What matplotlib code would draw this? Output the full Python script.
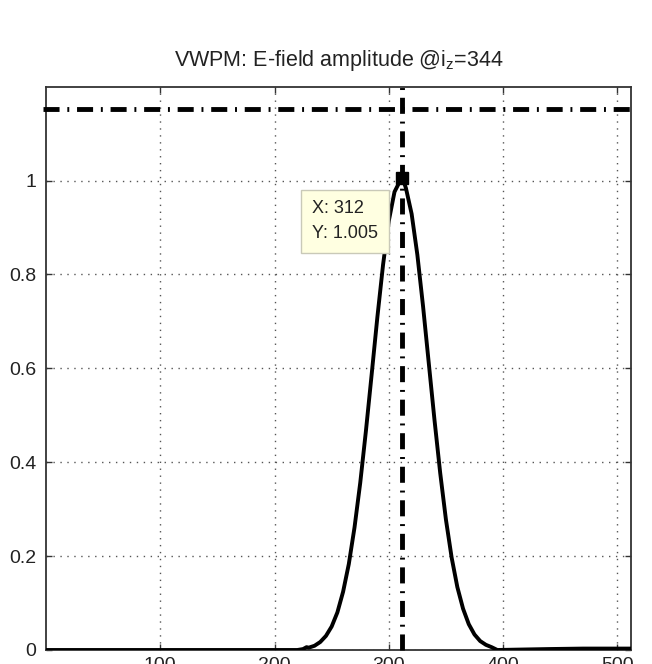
import numpy as np
import matplotlib
matplotlib.use("Agg")
from matplotlib import pyplot as plt

plt.rcParams['font.family'] = ['Liberation Sans', 'DejaVu Sans']
plt.rcParams['mathtext.fontset'] = 'custom'
plt.rcParams['mathtext.rm'] = 'Liberation Sans'

# E-field amplitude along x (cell index) at iz = 344
x_cells = [1, 220, 225, 228, 230, 235, 240, 245, 250, 255, 260, 265, 270, 275,
           280, 285, 290, 295, 300, 305, 310, 312, 315, 320, 325, 330, 335,
           340, 345, 350, 355, 360, 365, 370, 375, 380, 385, 390, 395, 440,
           470, 512]
amplitude = [0.0, 0.0, 0.002, 0.006, 0.005, 0.009, 0.017, 0.030, 0.050, 0.080,
             0.124, 0.183, 0.261, 0.356, 0.467, 0.587, 0.709, 0.821, 0.914,
             0.976, 1.0, 1.005, 0.984, 0.929, 0.842, 0.732, 0.611, 0.490,
             0.377, 0.278, 0.197, 0.134, 0.088, 0.055, 0.033, 0.019, 0.011,
             0.006, 0.0, 0.002, 0.003, 0.003]

tip_x, tip_y = 312, 1.005
level_y = 1.152

x_ticks = [100, 200, 300, 400, 500]
y_ticks = [0, 0.2, 0.4, 0.6, 0.8, 1]
y_labels = ['0', '0.2', '0.4', '0.6', '0.8', '1']

fig = plt.figure(figsize=(6.52, 6.64), dpi=100)
ax = fig.add_axes([0.0706, 0.0211, 0.8972, 0.8483])

ax.plot(x_cells, amplitude, color='black', lw=2.8, solid_joinstyle='round', zorder=3)

dash = (0, (3.3, 1.6, 0.4, 1.6))
ax.plot([-3, 515], [level_y, level_y], color='black', lw=3.5, linestyle=dash,
        dash_capstyle='butt', clip_on=False, zorder=4)
ax.plot([tip_x, tip_x], [0, 1.207], color='black', lw=3.5, linestyle=dash,
        dash_capstyle='butt', clip_on=False, zorder=4)

ax.plot([tip_x], [tip_y], marker='s', ms=8, color='black', zorder=5)
ax.annotate('X: 312\nY: 1.005', xy=(tip_x, tip_y), xytext=(-65, -16),
            textcoords='offset points', ha='left', va='top', fontsize=13,
            linespacing=1.6, color='#222222',
            bbox=dict(boxstyle='square,pad=0.6', fc='#ffffe1', ec='#c9c9b8', lw=1),
            zorder=6)

ax.set_xlim(0, 512)
ax.set_ylim(0, 1.2)
ax.set_xticks(x_ticks)
ax.set_yticks(y_ticks)
ax.set_yticklabels(y_labels)
ax.tick_params(direction='in', length=4, width=1, top=True, right=True,
               labelsize=14, color='#333333', labelcolor='#222222')
ax.tick_params(axis='y', pad=7)
ax.tick_params(axis='x', pad=5)
ax.grid(True, linestyle=(0, (1, 4)), color='#555555', lw=1)
for s in ax.spines.values():
    s.set_linewidth(1.3)
    s.set_color('#333333')

ax.set_title(r'VWPM: E-field amplitude @i$_\mathregular{z}$=344', fontsize=15.5,
             color='#222222', pad=15)

fig.savefig('out.png', dpi=100)
